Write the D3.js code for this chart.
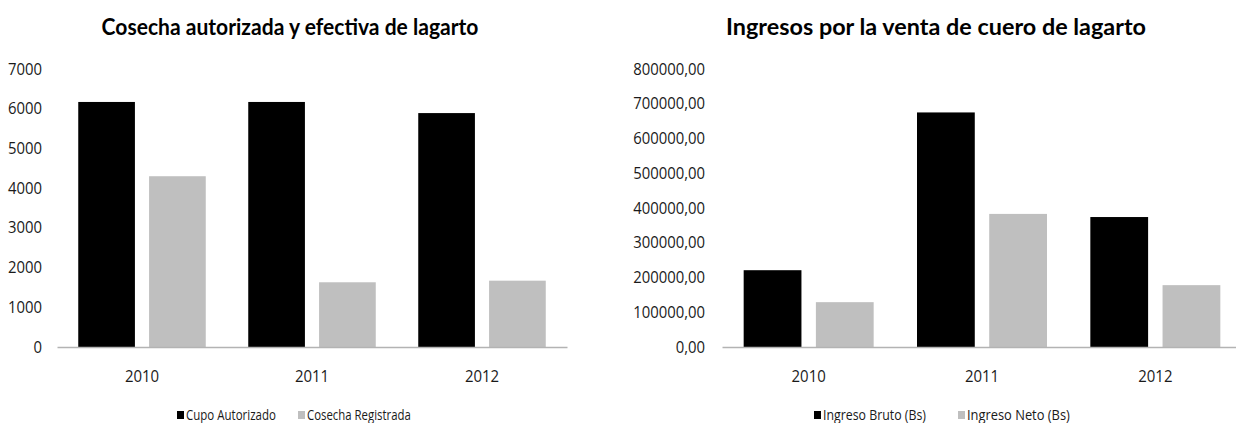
<!DOCTYPE html>
<html>
<head>
<meta charset="utf-8">
<script src="https://cdn.jsdelivr.net/npm/d3@7"></script>
<style>
  html, body { margin: 0; padding: 0; background: #fff; }
  svg { display: block; font-family: Lato, "Open Sans", sans-serif; }
</style>
</head>
<body>
<script>
// --- data ---
var years = ["2010", "2011", "2012"];

var cosechaSeries = ["Cupo Autorizado", "Cosecha Registrada"];
var cupoAutorizado = [6170, 6170, 5890];
var cosechaRegistrada = [4300, 1630, 1670];
var cosechaTicks = [0, 1000, 2000, 3000, 4000, 5000, 6000, 7000];

var ingresoSeries = ["Ingreso Bruto (Bs)", "Ingreso Neto (Bs)"];
var ingresoBruto = [221000, 675000, 374000];
var ingresoNeto = [129000, 383000, 178000];
var ingresoTicks = [0, 100000, 200000, 300000, 400000, 500000, 600000, 700000, 800000];

var colors = ["#000000", "#bfbfbf"];
var LABEL_FONT = "'Open Sans', Lato, sans-serif";

var esLocale = d3.formatLocale({decimal: ",", thousands: "", grouping: [3], currency: ["", ""]});

var svg = d3.select("body").append("svg")
	.attr("width", 1236)
	.attr("height", 423);

// squeeze a text sideways so it spans the given width (source text is narrow)
function fitWidth(node, x, y, width){
	var w = node.getComputedTextLength();
	d3.select(node).attr("transform", "translate(" + x + "," + y + ") scale(" + (width / w) + ",1)");
}

function drawChart(opts){
	var g = svg.append("g");

	var x = d3.scaleBand()
		.domain(years)
		.range([opts.left, opts.right]);

	var xs = d3.scaleBand()
		.domain(opts.series)
		.range([0, x.bandwidth()])
		.paddingInner(0.2)
		.paddingOuter(0.3);

	var y = d3.scaleLinear()
		.domain([0, opts.ticks[opts.ticks.length - 1]])
		.range([347, 69]);

	// title
	var title = g.append("text")
		.attr("text-anchor", "middle")
		.style("font-size", "23px")
		.style("font-weight", "bold")
		.attr("fill", "#000")
		.text(opts.title);
	fitWidth(title.node(), opts.titleX, 35, opts.titleW);

	// bars
	opts.series.forEach(function(name, i){
		g.selectAll(".bar" + i)
			.data(opts.values[i])
			.enter().append("rect")
			.attr("class", "bar" + i)
			.attr("x", function(d, j){ return x(years[j]) + xs(name); })
			.attr("width", xs.bandwidth())
			.attr("y", function(d){ return y(d); })
			.attr("height", function(d){ return y(0) - y(d); })
			.attr("fill", colors[i]);
	});

	// y axis (labels only)
	var ya = g.append("g")
		.attr("transform", "translate(" + opts.tickX + ",0)")
		.call(d3.axisLeft(y).tickValues(opts.ticks).tickSize(0).tickPadding(0).tickFormat(opts.fmt));
	ya.select(".domain").remove();
	ya.selectAll("text")
		.attr("transform", "scale(0.93,1)")
		.style("font-size", "16px")
		.style("font-family", LABEL_FONT)
		.attr("fill", "#1a1a1a");

	// x axis
	var xa = g.append("g")
		.attr("transform", "translate(0," + y(0) + ")")
		.call(d3.axisBottom(x).tickSize(0).tickSizeOuter(0));
	xa.select(".domain")
		.attr("stroke", "#b3b3b3")
		.attr("stroke-width", 1.5);
	xa.selectAll("text")
		.attr("y", 29)
		.attr("dy", "0.35em")
		.attr("transform", "scale(0.88,1)")
		.style("font-size", "17px")
		.style("font-family", LABEL_FONT)
		.attr("fill", "#1a1a1a");

	// legend
	var lg = g.append("g");
	opts.series.forEach(function(name, i){
		var lx = opts.legendX[i];
		lg.append("rect")
			.attr("x", lx)
			.attr("y", 411)
			.attr("width", 7)
			.attr("height", 8)
			.attr("fill", colors[i]);
		var t = lg.append("text")
			.attr("dy", "0.35em")
			.style("font-size", "14px")
			.style("font-family", LABEL_FONT)
			.attr("fill", "#1a1a1a")
			.text(name);
		fitWidth(t.node(), lx + 9, 415, opts.legendW[i]);
	});
}

drawChart({
	title: "Cosecha autorizada y efectiva de lagarto",
	titleX: 290,
	titleW: 377,
	series: cosechaSeries,
	values: [cupoAutorizado, cosechaRegistrada],
	ticks: cosechaTicks,
	fmt: d3.format("d"),
	left: 57,
	right: 567,
	tickX: 42,
	legendX: [177, 298],
	legendW: [90, 104]
});

drawChart({
	title: "Ingresos por la venta de cuero de lagarto",
	titleX: 936,
	titleW: 420,
	series: ingresoSeries,
	values: [ingresoBruto, ingresoNeto],
	ticks: ingresoTicks,
	fmt: esLocale.format(".2f"),
	left: 722,
	right: 1242,
	tickX: 705,
	legendX: [814, 958],
	legendW: [103, 103]
});
</script>
</body>
</html>
